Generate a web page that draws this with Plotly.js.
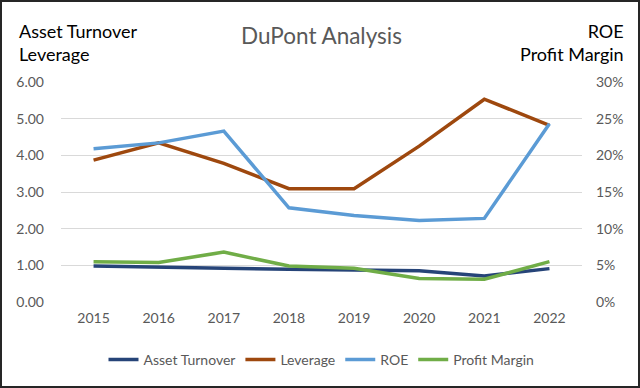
<!DOCTYPE html>
<html>
<head>
<meta charset="utf-8">
<script src="https://cdn.plot.ly/plotly-3.0.1.min.js"></script>
<style>
  html, body { margin: 0; padding: 0; background: #fff; }
  #wrap { position: relative; width: 640px; height: 388px; }
  #chart { position: absolute; left: 0; top: 0; width: 640px; height: 388px; }
  #frame { position: absolute; left: 0; top: 0; width: 640px; height: 388px; box-sizing: border-box; border: 2px solid #262626; pointer-events: none; }
</style>
</head>
<body>
<div id="wrap">
  <div id="chart"></div>
  <div id="frame"></div>
</div>
<script>
const years = ['2015', '2016', '2017', '2018', '2019', '2020', '2021', '2022'];
const assetTurnover = [0.98, 0.94, 0.92, 0.89, 0.87, 0.85, 0.71, 0.91];
const leverage = [3.87, 4.34, 3.78, 3.09, 3.09, 4.25, 5.53, 4.82];
const roe = [0.209, 0.217, 0.233, 0.1285, 0.118, 0.111, 0.114, 0.243];
const profitMargin = [0.055, 0.054, 0.068, 0.049, 0.046, 0.032, 0.031, 0.055];
const leftTicks = [0, 1, 2, 3, 4, 5, 6];
const rightTicks = [0, 0.05, 0.10, 0.15, 0.20, 0.25, 0.30];

const font = 'Lato, "Open Sans", sans-serif';
const grey = '#595959';

const traces = [
  { x: years, y: assetTurnover, name: 'Asset Turnover', type: 'scatter', mode: 'lines',
    line: { color: '#264478', width: 3.5 }, yaxis: 'y' },
  { x: years, y: leverage, name: 'Leverage', type: 'scatter', mode: 'lines',
    line: { color: '#9E480E', width: 3.5 }, yaxis: 'y' },
  { x: years, y: roe, name: 'ROE', type: 'scatter', mode: 'lines',
    line: { color: '#5B9BD5', width: 3.5 }, yaxis: 'y2' },
  { x: years, y: profitMargin, name: 'Profit Margin', type: 'scatter', mode: 'lines',
    line: { color: '#70AD47', width: 3.5 }, yaxis: 'y2' }
];

const layout = {
  width: 640, height: 388,
  margin: { l: 61, r: 58, t: 82, b: 83 },
  paper_bgcolor: '#ffffff', plot_bgcolor: '#ffffff',
  font: { family: font, size: 14, color: grey },
  showlegend: true,
  legend: { orientation: 'h', x: 0.5, xanchor: 'center', y: -0.19, yanchor: 'top',
            font: { family: font, size: 14, color: grey }, itemwidth: 30, tracegroupgap: 0 },
  xaxis: { type: 'category', range: [-0.5, 7.5], showgrid: false, zeroline: false,
           showline: false, ticks: '', tickfont: { family: font, size: 14, color: grey },
           ticklabelstandoff: 6, fixedrange: true },
  yaxis: { range: [0, 6], tickvals: leftTicks, tickformat: '.2f', showgrid: true,
           gridcolor: '#d9d9d9', gridwidth: 1, zeroline: false, showline: false, ticks: '',
           tickfont: { family: font, size: 14, color: grey }, ticklabelstandoff: 16 },
  yaxis2: { range: [0, 0.30], tickvals: rightTicks, tickformat: '.0%', overlaying: 'y',
            side: 'right', showgrid: false, zeroline: false, showline: false, ticks: '',
            tickfont: { family: font, size: 14, color: grey }, ticklabelstandoff: 13 },
  annotations: [
    { text: 'DuPont Analysis', xref: 'paper', yref: 'paper', x: 0.5, y: 1, xanchor: 'center',
      yshift: 47, yanchor: 'middle', showarrow: false, font: { family: font, size: 22.5, color: grey } },
    { text: 'Asset Turnover<br>Leverage', xref: 'paper', yref: 'paper', x: 0, xshift: -44,
      y: 1, yshift: 40, xanchor: 'left', yanchor: 'middle', align: 'left', showarrow: false,
      font: { family: font, size: 18, color: '#000000' } },
    { text: 'ROE<br>Profit Margin', xref: 'paper', yref: 'paper', x: 1, xshift: 44,
      y: 1, yshift: 40, xanchor: 'right', yanchor: 'middle', align: 'right', showarrow: false,
      font: { family: font, size: 18, color: '#000000' } }
  ]
};

Plotly.newPlot('chart', traces, layout, { displayModeBar: false, staticPlot: true });
</script>
</body>
</html>
